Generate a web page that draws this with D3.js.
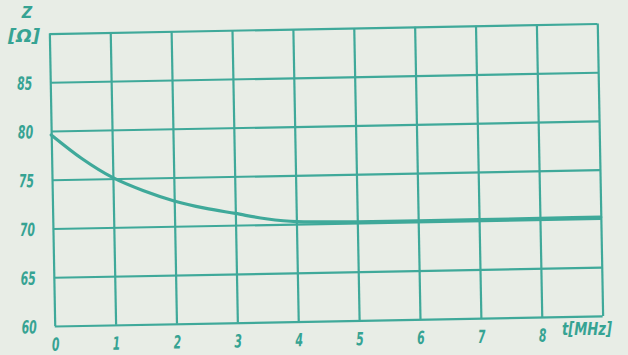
<!DOCTYPE html>
<html><head><meta charset="utf-8">
<script src="https://cdn.jsdelivr.net/npm/d3@7"></script>
<style>
html,body{margin:0;padding:0;background:#e8ede6;}
svg{display:block;}
.lbl{font-family:"DejaVu Sans Condensed","DejaVu Sans",sans-serif;font-style:italic;font-weight:bold;fill:#36a393;}
</style>
</head><body>
<script>
// Data
const freq = [0, 0.5, 1, 1.5, 2, 2.5, 3, 3.5, 4, 5, 6, 7, 8, 9];
const impedance = [79.6, 77.1, 75.1, 73.7, 72.6, 71.8, 71.2, 70.6, 70.25, 70.12, 70.1, 70.1, 70.12, 70.15];
const xTicks = [0, 1, 2, 3, 4, 5, 6, 7, 8, 9];
const xTickLabels = ["0", "1", "2", "3", "4", "5", "6", "7", "8", ""];
const yTicks = [60, 65, 70, 75, 80, 85, 90];
const yTickLabels = ["60", "65", "70", "75", "80", "85", ""];

(function () {
const W = 628, H = 355;
const teal = "#3fa99a";
const svg = d3.select("body").append("svg").attr("width", W).attr("height", H);
svg.append("rect").attr("width", W).attr("height", H).attr("fill", "#e8ede6");

const mLeft = 52, mRight = 600, mTop = 28.5, mBottom = 321;
const x = d3.scaleLinear().domain([0, 9]).range([mLeft, mRight]);
const y = d3.scaleLinear().domain([60, 90]).range([mBottom, mTop]);

const g = svg.append("g").attr("transform", "rotate(-1.05 325 175)");

// grid via axes
const gx = g.append("g").attr("transform", `translate(0,${mBottom})`)
  .call(d3.axisBottom(x).tickValues(xTicks).tickSize(-(mBottom - mTop)).tickPadding(12)
    .tickFormat((d, i) => xTickLabels[i]));
const gy = g.append("g").attr("transform", `translate(${mLeft},0)`)
  .call(d3.axisLeft(y).tickValues(yTicks).tickSize(-(mRight - mLeft)).tickPadding(18)
    .tickFormat((d, i) => yTickLabels[i]));
[gx, gy].forEach(a => {
  a.select(".domain").remove();
  a.selectAll(".tick line").attr("stroke", teal).attr("stroke-width", 2.2);
  a.selectAll(".tick text").attr("class", "lbl").attr("font-size", 18).attr("fill", "#36a393")
    .each(function () {
      const t = this.textContent;
      if (t) d3.select(this).attr("textLength", t.length * 7.6).attr("lengthAdjust", "spacingAndGlyphs");
    });
});
gy.selectAll(".tick text").attr("dy", "0.36em");

// curve
const line = d3.line().x((d, i) => x(freq[i])).y(d => y(d)).curve(d3.curveMonotoneX);
g.append("path").datum(impedance).attr("d", line)
  .attr("fill", "none").attr("stroke", teal).attr("stroke-width", 3.2).attr("stroke-linecap", "round");

// axis titles
svg.append("text").attr("class", "lbl").attr("x", 27).attr("y", 18).attr("text-anchor", "middle")
  .attr("font-size", 16).text("Z");
svg.append("text").attr("class", "lbl").attr("x", 24).attr("y", 42).attr("text-anchor", "middle")
  .attr("font-size", 17).attr("textLength", 32).attr("lengthAdjust", "spacingAndGlyphs").text("[Ω]");
svg.append("text").attr("class", "lbl").attr("x", 587).attr("y", 335).attr("text-anchor", "middle")
  .attr("font-size", 17).attr("textLength", 50).attr("lengthAdjust", "spacingAndGlyphs").text("t[MHz]");
})();
</script>
</body></html>
